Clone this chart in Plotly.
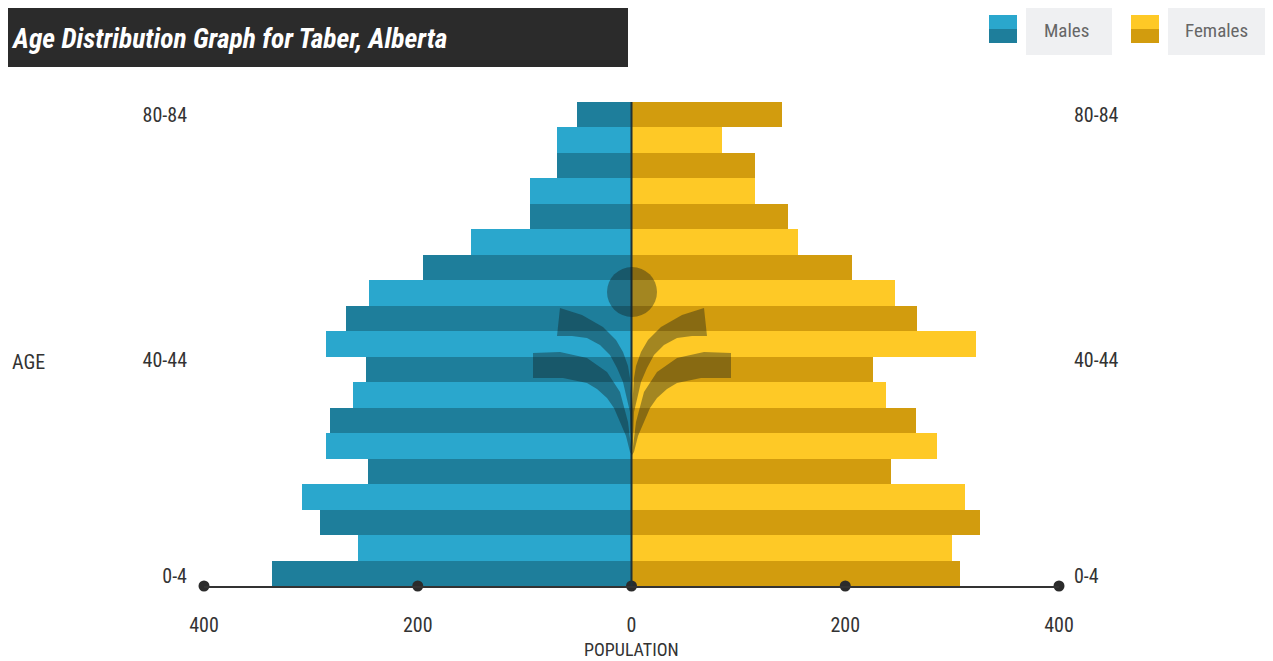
import plotly.graph_objects as go

# ---------------- data ----------------
age_groups = ["0-4", "5-9", "10-14", "15-19", "20-24", "25-29", "30-34", "35-39",
              "40-44", "45-49", "50-54", "55-59", "60-64", "65-69", "70-74",
              "75-79", "80-84", "85-89", "90+"]
males = [336, 256, 291, 308, 247, 286, 282, 261, 248, 286, 267, 246, 195, 150,
         95, 95, 70, 70, 51]
females = [307, 300, 326, 312, 243, 286, 266, 238, 226, 322, 267, 247, 206, 156,
           146, 116, 116, 85, 141]
x_tick_vals = [-400, -200, 0, 200, 400]
x_tick_text = ["400", "200", "0", "200", "400"]
y_tick_text = ["0-4", "40-44", "80-84"]
y_tick_pos = [-0.12, 8.37, 17.98]

# ---------------- style ----------------
OFF = 8                      # page body margin in the browser
WIN_W, WIN_H = 1273, 661
W, H = WIN_W - OFF, WIN_H - OFF
PL, PR, PT, PB = 204, 1059, 102, 586   # plot area in window pixels
male_light, male_dark = "#2aa7cd", "#1e7e9b"
female_light, female_dark = "#fec926", "#d29c0e"
FONT = "Roboto Condensed, Liberation Sans Narrow, Roboto, sans-serif"


def px(x):
    return (x - PL) / (PR - PL)


def py(y):
    return (PB - y) / (PB - PT)


def path_from_pixels(points):
    s = "M " + " L ".join(f"{px(a):.5f},{py(b):.5f}" for a, b in points)
    return s + " Z"


ypos = list(range(len(age_groups)))
male_colors = [male_dark if i % 2 == 0 else male_light for i in ypos]
female_colors = [female_dark if i % 2 == 0 else female_light for i in ypos]

fig = go.Figure()
fig.add_trace(go.Bar(
    y=ypos, x=[-v for v in males], orientation="h", width=1,
    marker=dict(color=male_colors, line=dict(width=0)),
    name="Males", customdata=males, hovertext=age_groups,
    hovertemplate="%{hovertext}: %{customdata}<extra>Males</extra>",
))
fig.add_trace(go.Bar(
    y=ypos, x=females, orientation="h", width=1,
    marker=dict(color=female_colors, line=dict(width=0)),
    name="Females", hovertext=age_groups,
    hovertemplate="%{hovertext}: %{x}<extra>Females</extra>",
))
# axis dots at tick positions (on y2 so the right axis is drawn)
fig.add_trace(go.Scatter(
    x=x_tick_vals, y=[-0.5] * len(x_tick_vals), mode="markers",
    marker=dict(size=11, color="#2b2b2b"), cliponaxis=False,
    hoverinfo="skip", yaxis="y2", showlegend=False,
))

shapes = []
# center line
shapes.append(dict(type="line", xref="x", yref="paper", x0=0, x1=0, y0=0, y1=1,
                   line=dict(color="#1f3238", width=2), layer="above"))

# watermark logo
logo_fill = "rgba(15,25,25,0.38)"
shapes.append(dict(type="circle", xref="paper", yref="paper",
                   x0=px(607), x1=px(657), y0=py(317), y1=py(267),
                   fillcolor=logo_fill, line=dict(width=0), layer="above"))
cx = 632
upper_leaf = [(560, 308), (582, 315), (603, 327), (616, 340), (623, 352),
              (628, 366), (630, 378), (632, 410), (632, 452),
              (631, 442), (630, 412), (626, 395), (623, 382), (617, 368),
              (610, 355), (600, 345), (587, 338), (572, 336), (557, 336)]
lower_leaf = [(533, 353), (560, 352), (587, 358), (607, 372), (620, 392),
              (628, 422), (632, 455), (630, 452), (626, 436), (620, 422),
              (614, 408), (607, 398), (597, 389), (587, 383), (563, 378),
              (533, 378)]
for leaf in (upper_leaf, lower_leaf):
    shapes.append(dict(type="path", xref="paper", yref="paper",
                       path=path_from_pixels(leaf), fillcolor=logo_fill,
                       line=dict(width=0), layer="above"))
    mirrored = [(2 * cx - a, b) for a, b in leaf]
    shapes.append(dict(type="path", xref="paper", yref="paper",
                       path=path_from_pixels(mirrored), fillcolor=logo_fill,
                       line=dict(width=0), layer="above"))

# title box
shapes.append(dict(type="rect", xref="paper", yref="paper",
                   x0=px(0), x1=px(628), y0=py(67), y1=py(5),
                   fillcolor="#2b2b2b", line=dict(width=0)))


# legend
def legend_item(sq_x0, box_x0, box_x1, light, dark):
    out = []
    out.append(dict(type="rect", xref="paper", yref="paper",
                    x0=px(box_x0), x1=px(box_x1), y0=py(55), y1=py(4),
                    fillcolor="#eff0f2", line=dict(width=0)))
    out.append(dict(type="rect", xref="paper", yref="paper",
                    x0=px(sq_x0), x1=px(sq_x0 + 28), y0=py(29), y1=py(15),
                    fillcolor=light, line=dict(width=0)))
    out.append(dict(type="rect", xref="paper", yref="paper",
                    x0=px(sq_x0), x1=px(sq_x0 + 28), y0=py(43), y1=py(29),
                    fillcolor=dark, line=dict(width=0)))
    return out


shapes += legend_item(989, 1026, 1112, male_light, male_dark)
shapes += legend_item(1131, 1168, 1265, female_light, female_dark)

annotations = [
    dict(text="<b><i>Age Distribution Graph for Taber, Alberta</i></b>",
         xref="paper", yref="paper", x=px(9), y=py(38), xanchor="left",
         yanchor="middle", showarrow=False,
         font=dict(family=FONT, size=27.5, color="white")),
    dict(text="Males", xref="paper", yref="paper", x=px(1066), y=py(30),
         xanchor="center", yanchor="middle", showarrow=False,
         font=dict(family=FONT, size=19, color="#666666")),
    dict(text="Females", xref="paper", yref="paper", x=px(1216), y=py(30),
         xanchor="center", yanchor="middle", showarrow=False,
         font=dict(family=FONT, size=19, color="#666666")),
    dict(text="AGE", xref="paper", yref="paper", x=px(28), y=py(362),
         xanchor="center", yanchor="middle", showarrow=False,
         font=dict(family=FONT, size=20, color="#333333")),
    dict(text="POPULATION", xref="paper", yref="paper", x=px(631), y=py(649),
         xanchor="center", yanchor="middle", showarrow=False,
         font=dict(family=FONT, size=18, color="#333333")),
]

yaxis_common = dict(range=[-0.5, len(age_groups) - 0.5], tickmode="array",
                    tickvals=y_tick_pos, ticktext=y_tick_text,
                    showgrid=False, zeroline=False, showline=False, ticks="",
                    tickfont=dict(family=FONT, size=20, color="#333333"),
                    fixedrange=True)

fig.update_layout(
    width=W, height=H, autosize=False,
    margin=dict(l=PL - OFF, r=WIN_W - PR, t=PT - OFF, b=WIN_H - PB, pad=0),
    paper_bgcolor="white", plot_bgcolor="white",
    barmode="relative", bargap=0, showlegend=False,
    xaxis=dict(range=[-400, 400], tickmode="array", tickvals=x_tick_vals,
               ticktext=x_tick_text, showgrid=False, zeroline=False,
               showline=True, linecolor="#333333", linewidth=2, ticks="",
               ticklabelstandoff=20,
               tickfont=dict(family=FONT, size=20, color="#333333")),
    yaxis=dict(**yaxis_common, side="left", ticklabelstandoff=16),
    yaxis2=dict(**yaxis_common, side="right", overlaying="y",
                ticklabelstandoff=14),
    shapes=shapes, annotations=annotations,
)

fig.write_html("out.html")
